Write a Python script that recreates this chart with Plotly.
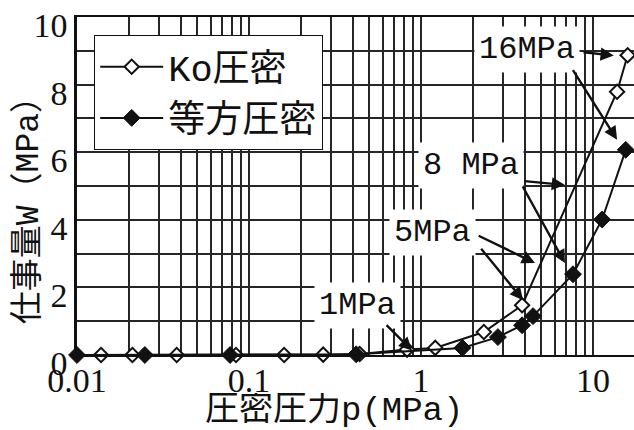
import math
import plotly.graph_objects as go

# Work W (MPa) against consolidation pressure p (MPa)
ko_p = [0.0138, 0.021, 0.038, 0.084, 0.16, 0.27, 0.44, 0.83, 1.21, 2.32, 3.87, 13.8, 15.9]
ko_w = [0.0, 0.0, 0.0, 0.0, 0.0, 0.01, 0.03, 0.16, 0.21, 0.68, 1.47, 7.79, 8.87]

iso_p = [0.01, 0.0248, 0.0776, 0.42, 1.74, 2.8, 3.87, 4.48, 7.65, 11.3, 15.5]
iso_w = [0.0, 0.0, 0.0, 0.02, 0.21, 0.53, 0.88, 1.15, 2.39, 4.01, 6.07]

series_names = ["Ko圧密", "等方圧密"]

x_title = "圧密圧力p(MPa)"
y_title = "仕事量W（MPa）"

# log-axis grid: every integer multiple inside each decade, labels only on decades
decades = (-2, -1, 0, 1)
decade_text = {-2: "0.01", -1: "0.1", 0: "1", 1: "10"}
x_tickvals = [m * 10 ** e for e in decades for m in range(1, 10)]
x_ticktext = [decade_text[e] if m == 1 else "" for e in decades for m in range(1, 10)]
y_tickvals = list(range(0, 11))
y_ticktext = [str(v) if v % 2 == 0 else "" for v in y_tickvals]

# label text, label centre (p, W)
labels = [
    ("16MPa", 4.13, 9.04),
    ("8 MPa", 1.95, 5.62),
    ("5MPa", 1.16, 3.63),
    ("1MPa", 0.43, 1.47),
]
# arrows: tail (p, W) -> head (p, W)
arrows = [
    ((8.63, 8.96), (13.2, 8.86)),
    ((7.55, 8.47), (13.8, 6.37)),
    ((3.92, 5.15), (6.87, 5.03)),
    ((3.86, 5.03), (6.87, 2.72)),
    ((2.12, 3.55), (4.60, 2.72)),
    ((2.20, 3.19), (3.92, 1.62)),
    ((0.618, 0.93), (0.887, 0.13)),
]

LAT = "Liberation Mono, Noto Sans CJK JP"
NUM = "Liberation Serif"
INK = "#111111"
GRID = "#262626"

fig = go.Figure()
fig.add_trace(go.Scatter(
    x=ko_p, y=ko_w, name=series_names[0], mode="lines+markers", cliponaxis=False,
    line=dict(color=INK, width=2),
    marker=dict(symbol="diamond", size=11, color="white", line=dict(color=INK, width=2)),
))
fig.add_trace(go.Scatter(
    x=iso_p, y=iso_w, name=series_names[1], mode="lines+markers", cliponaxis=False,
    line=dict(color=INK, width=2),
    marker=dict(symbol="diamond", size=13, color=INK, line=dict(color=INK, width=1)),
))

L, R, T, B = 77, 0, 17, 75
W_PX, H_PX = 634, 430
decade_px = 172
x_hi = -2 + (W_PX - L - R) / decade_px
plot_w = W_PX - L - R

annotations = []
for txt, p, w in labels:
    annotations.append(dict(
        x=math.log10(p), y=w, xref="x", yref="y", text=txt, showarrow=False,
        font=dict(family=LAT, size=32, color=INK), bgcolor="white", borderpad=4,
    ))
for (tp, tw), (hp, hw) in arrows:
    annotations.append(dict(
        x=math.log10(hp), y=hw, ax=math.log10(tp), ay=tw, xref="x", yref="y",
        axref="x", ayref="y", text="", showarrow=True, arrowhead=2, arrowsize=1.1,
        arrowwidth=2.4, arrowcolor=INK, standoff=0, startstandoff=0,
    ))
annotations.append(dict(
    x=(334 - L) / plot_w, y=-0.163, xref="paper", yref="paper", text=x_title,
    xanchor="center", yanchor="middle", height=34,
    showarrow=False, font=dict(family=LAT, size=34, color=INK),
))
annotations.append(dict(
    x=(28 - L) / plot_w, y=0.452, xref="paper", yref="paper", text=y_title,
    xanchor="center", yanchor="middle",
    showarrow=False, textangle=-90, font=dict(family=LAT, size=33, color=INK),
))

fig.update_layout(
    width=W_PX, height=H_PX,
    margin=dict(l=L, r=R, t=T, b=B, pad=0),
    paper_bgcolor="white", plot_bgcolor="white",
    showlegend=True,
    legend=dict(
        x=(94 - L) / plot_w, y=(354.5 - 35) / 337.5, xanchor="left", yanchor="top",
        bgcolor="white", bordercolor=INK, borderwidth=1.2,
        font=dict(family=LAT, size=37, color=INK), itemwidth=63, tracegroupgap=0,
    ),
    annotations=annotations,
)
fig.update_xaxes(
    type="log", range=[-2, x_hi], tickmode="array", tickvals=x_tickvals, ticktext=x_ticktext,
    showgrid=True, gridcolor=GRID, gridwidth=1.6, ticks="", zeroline=False,
    showline=True, linecolor=INK, linewidth=2, mirror=True,
    tickfont=dict(family=NUM, size=34, color=INK), ticklabelstandoff=-6,
)
fig.update_yaxes(
    range=[0, 10], tickmode="array", tickvals=y_tickvals, ticktext=y_ticktext,
    showgrid=True, gridcolor=GRID, gridwidth=1.6, ticks="", zeroline=False,
    showline=True, linecolor=INK, linewidth=2.5,
    tickfont=dict(family=NUM, size=34, color=INK), ticklabelstandoff=0, ticklabelshift=8,
)

fig.write_html("out.html")
